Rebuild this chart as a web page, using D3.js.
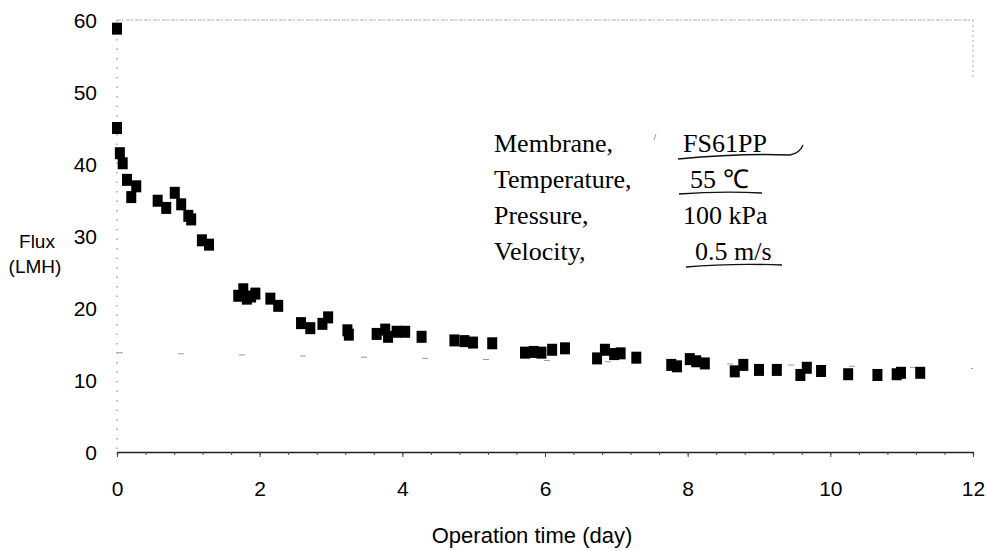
<!DOCTYPE html>
<html>
<head>
<meta charset="utf-8">
<script src="https://cdn.jsdelivr.net/npm/d3@7"></script>
<style>
  body { margin: 0; background: #fff; }
</style>
</head>
<body>
<script>
// Flux readings (LMH) against operation time (day)
const days = [0, 0, 0.04, 0.08, 0.14, 0.2, 0.27, 0.57, 0.69, 0.81, 0.9, 1.0, 1.04,
  1.19, 1.29, 1.7, 1.77, 1.82, 1.88, 1.94, 2.15, 2.26, 2.58, 2.71, 2.88, 2.96,
  3.23, 3.25, 3.64, 3.76, 3.8, 3.92, 4.04, 4.27, 4.73, 4.87, 4.99, 5.26,
  5.72, 5.84, 5.95, 6.1, 6.28, 6.73, 6.84, 6.97, 7.06, 7.28, 7.77, 7.85,
  8.03, 8.12, 8.24, 8.66, 8.78, 9.0, 9.25, 9.58, 9.67, 9.87, 10.25, 10.66,
  10.93, 10.99, 11.26];
const flux = [58.8, 45.0, 41.5, 40.1, 37.8, 35.4, 36.9, 34.9, 33.9, 36.0, 34.4, 32.8, 32.3,
  29.4, 28.8, 21.7, 22.6, 21.3, 21.6, 22.0, 21.3, 20.3, 17.9, 17.2, 17.8, 18.7,
  16.9, 16.3, 16.4, 17.0, 16.0, 16.7, 16.7, 16.0, 15.5, 15.4, 15.2, 15.1,
  13.8, 13.9, 13.8, 14.2, 14.4, 13.0, 14.2, 13.6, 13.7, 13.1, 12.1, 11.9,
  12.9, 12.6, 12.3, 11.2, 12.1, 11.4, 11.4, 10.7, 11.7, 11.25, 10.8, 10.7,
  10.8, 11.0, 11.0];

// faint trace left on the scan
const traceDays = [0, 12];
const traceFlux = [13.8, 11.6];

const xTicks = [0, 2, 4, 6, 8, 10, 12];
const yTicks = [0, 10, 20, 30, 40, 50, 60];

const legendLabels = ["Membrane,", "Temperature,", "Pressure,", "Velocity,"];
const legendValues = ["FS61PP", "55 \u2103", "100 kPa", "0.5 m/s"];

const w = 988;
const h = 551;
const margin = { top: 20, right: 15, bottom: 99, left: 117 };

const svg = d3.select("body")
  .append("svg")
  .attr("width", w)
  .attr("height", h);

const x = d3.scaleLinear()
  .domain([0, 12])
  .range([margin.left, w - margin.right]);

const y = d3.scaleLinear()
  .domain([0, 60])
  .range([h - margin.bottom, margin.top]);

// plot frame: dotted top / right, dotted y axis
svg.append("line")
  .attr("x1", x(0)).attr("x2", x(12))
  .attr("y1", y(60)).attr("y2", y(60))
  .attr("stroke", "#aaa")
  .attr("stroke-dasharray", "4,1,2,2");

svg.append("line")
  .attr("x1", x(12)).attr("x2", x(12))
  .attr("y1", y(60)).attr("y2", y(52))
  .attr("stroke", "#aaa")
  .attr("stroke-dasharray", "2,3");

svg.append("line")
  .attr("x1", x(0)).attr("x2", x(0))
  .attr("y1", y(60)).attr("y2", y(0))
  .attr("stroke", "#777")
  .attr("stroke-dasharray", "1.5,8");

// faint trace
svg.append("path")
  .datum(d3.zip(traceDays, traceFlux))
  .attr("d", d3.line().x(d => x(d[0])).y(d => y(d[1])))
  .attr("stroke", "#999")
  .attr("stroke-width", 1)
  .attr("stroke-dasharray", "6,55")
  .attr("fill", "none");

// x axis
const xAxis = svg.append("g")
  .attr("transform", `translate(0,${y(0)})`)
  .call(d3.axisBottom(x)
    .tickValues(d3.range(0, 12.01, 0.4))
    .tickSize(3)
    .tickFormat(""));
xAxis.select(".domain").attr("stroke", "#222").attr("stroke-width", 1.4);
xAxis.selectAll(".tick line").attr("stroke", "#444");

svg.append("g")
  .attr("transform", `translate(0,${y(0)})`)
  .call(d3.axisBottom(x).tickValues(xTicks).tickSize(5).tickPadding(24))
  .call(g => g.select(".domain").remove())
  .call(g => g.selectAll(".tick line").attr("stroke", "#444"))
  .call(g => g.selectAll("text")
    .attr("font-family", "Liberation Sans, Arial, sans-serif")
    .attr("font-size", "21px")
    .attr("fill", "#000"));

// y tick labels
svg.append("g")
  .selectAll("text")
  .data(yTicks)
  .join("text")
  .attr("x", 97)
  .attr("y", d => y(d))
  .attr("dy", "0.36em")
  .attr("text-anchor", "end")
  .attr("font-family", "Liberation Sans, Arial, sans-serif")
  .attr("font-size", "21px")
  .text(d => d);

// axis titles
svg.append("text")
  .attr("x", 37).attr("y", 248)
  .attr("text-anchor", "middle")
  .attr("font-family", "Liberation Sans, Arial, sans-serif")
  .attr("font-size", "19px")
  .text("Flux");
svg.append("text")
  .attr("x", 35).attr("y", 273)
  .attr("text-anchor", "middle")
  .attr("font-family", "Liberation Sans, Arial, sans-serif")
  .attr("font-size", "19px")
  .text("(LMH)");

svg.append("text")
  .attr("x", 532)
  .attr("y", 543)
  .attr("text-anchor", "middle")
  .attr("font-family", "Liberation Sans, Arial, sans-serif")
  .attr("font-size", "22px")
  .text("Operation time (day)");

// markers
svg.append("g")
  .selectAll("rect")
  .data(d3.zip(days, flux))
  .join("rect")
  .attr("x", d => x(d[0]) - 5)
  .attr("y", d => y(d[1]) - 6)
  .attr("width", 10)
  .attr("height", 12)
  .attr("fill", "#000");

// condition box
const legend = svg.append("g")
  .attr("font-family", "Liberation Serif, Times New Roman, serif")
  .attr("font-size", "26px")
  .attr("fill", "#000");

legend.selectAll(".lab")
  .data(legendLabels)
  .join("text")
  .attr("class", "lab")
  .attr("x", 494)
  .attr("y", (d, i) => 152 + i * 36)
  .text(d => d);

legend.selectAll(".val")
  .data(legendValues)
  .join("text")
  .attr("class", "val")
  .attr("x", (d, i) => [683, 690, 683, 695][i])
  .attr("y", (d, i) => 152 + i * 36)
  .text(d => d);

// hand-drawn underlines
const ink = legend.append("g")
  .attr("fill", "none")
  .attr("stroke", "#111")
  .attr("stroke-width", 1.3);
ink.append("path").attr("d", "M678,159 Q740,153 790,155 Q800,153 803,145");
ink.append("path").attr("d", "M679,194 Q720,191 762,193");
ink.append("path").attr("d", "M686,267 Q730,263 782,265");
ink.append("path").attr("d", "M656,134 L654,140").attr("stroke", "#999").attr("stroke-width", 1);
</script>
</body>
</html>
